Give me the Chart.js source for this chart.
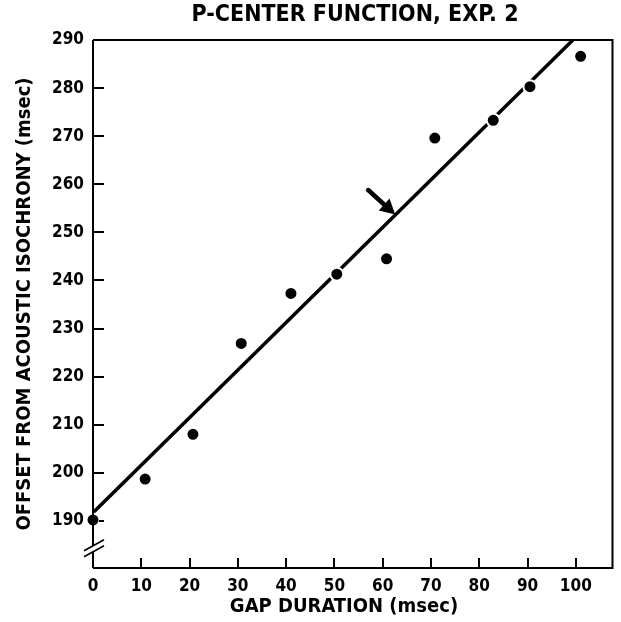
<!DOCTYPE html>
<html>
<head>
<meta charset="utf-8">
<script src="https://cdn.jsdelivr.net/npm/chart.js@4.4.1/dist/chart.umd.min.js"></script>
<style>
html,body{margin:0;padding:0;background:#fff;}
#wrap{width:621px;height:622px;}
</style>
</head>
<body>
<div id="wrap"><canvas id="c" width="621" height="622"></canvas></div>
<script>
const titleText = "P-CENTER FUNCTION, EXP. 2";
const xTitle = "GAP DURATION (msec)";
const yTitle = "OFFSET FROM ACOUSTIC ISOCHRONY (msec)";
const gapDuration = [0, 10.8, 20.7, 30.7, 41, 50.5, 60.8, 70.8, 82.9, 90.5, 101];
const offsetMs = [190.2, 198.7, 208.0, 226.9, 237.3, 241.3, 244.5, 269.6, 273.3, 280.3, 286.6];
const fitX = [0, 99.4];
const fitY = [191.7, 290];
const arrowFrom = [57.0, 258.8];
const arrowTo = [62.6, 253.7];
const xTicks = [0, 10, 20, 30, 40, 50, 60, 70, 80, 90, 100];
const yTicks = [190, 200, 210, 220, 230, 240, 250, 260, 270, 280, 290];

const FONT = "'DejaVu Sans Condensed', 'DejaVu Sans', sans-serif";

const framePlugin = {
  id: 'frame',
  afterDatasetsDraw(chart) {
    const {ctx, chartArea: a, scales: {x, y}} = chart;
    ctx.save();
    ctx.strokeStyle = '#000';
    ctx.lineWidth = 2;
    ctx.beginPath();
    ctx.moveTo(a.left, a.top); ctx.lineTo(a.right, a.top);
    ctx.lineTo(a.right, a.bottom); ctx.lineTo(a.left, a.bottom);
    ctx.stroke();
    const brk = y.getPixelForValue(184.2);
    ctx.beginPath();
    ctx.moveTo(a.left, a.top); ctx.lineTo(a.left, brk - 3);
    ctx.moveTo(a.left, brk + 3); ctx.lineTo(a.left, a.bottom);
    ctx.stroke();
    ctx.lineWidth = 1.6;
    ctx.beginPath();
    ctx.moveTo(a.left - 9, brk + 2); ctx.lineTo(a.left + 11, brk - 9);
    ctx.moveTo(a.left - 9, brk + 8); ctx.lineTo(a.left + 11, brk - 3);
    ctx.stroke();
    ctx.lineWidth = 2;
    ctx.beginPath();
    yTicks.forEach(v => {
      if (v >= 290) return;
      const py = Math.round(y.getPixelForValue(v));
      if (v === 190) { ctx.moveTo(a.left + 6, py); ctx.lineTo(a.left + 11, py); }
      else { ctx.moveTo(a.left, py); ctx.lineTo(a.left + 11, py); }
    });
    xTicks.forEach(v => {
      if (v === 0) return;
      const px = Math.round(x.getPixelForValue(v));
      ctx.moveTo(px, a.bottom); ctx.lineTo(px, a.bottom - 10);
    });
    ctx.stroke();
    const x0 = x.getPixelForValue(arrowFrom[0]), y0 = y.getPixelForValue(arrowFrom[1]);
    const x1 = x.getPixelForValue(arrowTo[0]), y1 = y.getPixelForValue(arrowTo[1]);
    const ang = Math.atan2(y1 - y0, x1 - x0);
    const hl = 15, hw = 8;
    const bx = x1 - hl * Math.cos(ang), by = y1 - hl * Math.sin(ang);
    ctx.lineWidth = 4.5;
    ctx.lineCap = 'round';
    ctx.beginPath(); ctx.moveTo(x0, y0); ctx.lineTo(bx, by); ctx.stroke();
    ctx.fillStyle = '#000';
    ctx.beginPath();
    ctx.moveTo(x1, y1);
    ctx.lineTo(bx + hw * Math.sin(ang), by - hw * Math.cos(ang));
    ctx.lineTo(bx - hw * Math.sin(ang), by + hw * Math.cos(ang));
    ctx.closePath(); ctx.fill();
    ctx.fillStyle = '#000';
    ctx.textAlign = 'center';
    ctx.textBaseline = 'middle';
    ctx.font = "bold 23px " + FONT;
    ctx.fillText(titleText, 355, 15);
    ctx.font = "bold 20px " + FONT;
    ctx.fillText(xTitle, 344, 607);
    ctx.save();
    ctx.translate(25, (a.top + a.bottom) / 2);
    ctx.rotate(-Math.PI / 2);
    ctx.fillText(yTitle, 0, 0);
    ctx.restore();
    ctx.restore();
  }
};

new Chart(document.getElementById('c'), {
  type: 'scatter',
  data: {
    datasets: [
      {
        label: 'data',
        data: gapDuration.map((g, i) => ({x: g, y: offsetMs[i]})),
        pointRadius: 6.5,
        pointBackgroundColor: '#000',
        pointBorderColor: '#fff',
        pointBorderWidth: 2,
        clip: false,
        order: 0
      },
      {
        label: 'fit',
        type: 'line',
        data: fitX.map((g, i) => ({x: g, y: fitY[i]})),
        borderColor: '#000',
        borderWidth: 3.5,
        pointRadius: 0,
        fill: false,
        order: 1
      }
    ]
  },
  plugins: [framePlugin],
  options: {
    responsive: false,
    animation: false,
    devicePixelRatio: 1,
    layout: {padding: {top: 40, right: 7, left: 0, bottom: 0}},
    plugins: {legend: {display: false}, tooltip: {enabled: false}, title: {display: false}},
    scales: {
      x: {
        type: 'linear', min: 0, max: 107.6,
        afterBuildTicks: s => { s.ticks = xTicks.map(v => ({value: v})); },
        afterFit: s => { s.height = 54; },
        grid: {display: false, drawTicks: false},
        border: {display: false},
        ticks: {color: '#000', padding: 8, maxRotation: 0, font: {family: FONT, size: 17, weight: 'bold'}}
      },
      y: {
        type: 'linear', min: 180.2, max: 290,
        afterBuildTicks: s => { s.ticks = yTicks.map(v => ({value: v})); },
        afterFit: s => { s.width = 93; },
        grid: {display: false, drawTicks: false},
        border: {display: false},
        ticks: {color: '#000', padding: 9, font: {family: FONT, size: 17, weight: 'bold'}}
      }
    }
  }
});
</script>
</body>
</html>
